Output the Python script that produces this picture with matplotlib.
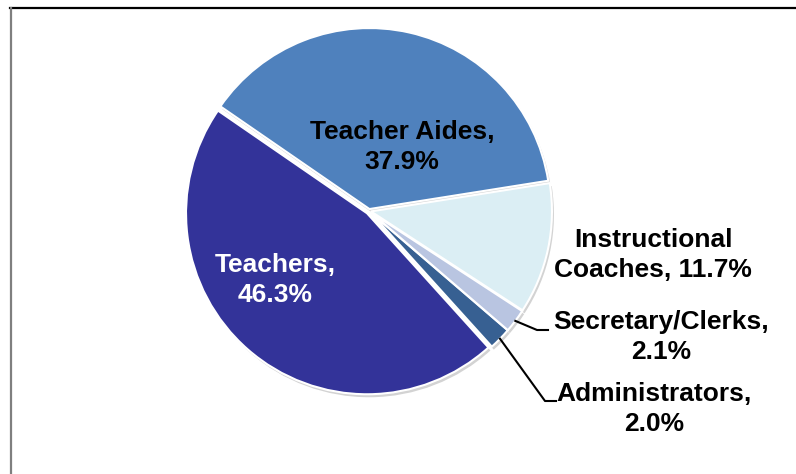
import numpy as np
import matplotlib
matplotlib.use("Agg")
import matplotlib.pyplot as plt
from matplotlib.lines import Line2D

plt.rcParams['font.family'] = ['Liberation Sans', 'DejaVu Sans']

# Staff composition
categories = ["Teacher Aides", "Teachers", "Administrators", "Secretary/Clerks", "Instructional Coaches"]
shares = [37.9, 46.3, 2.0, 2.1, 11.7]
colors = ["#4F81BD", "#333399", "#376092", "#B9C5E1", "#DBEEF4"]

W, H = 796, 474
fig = plt.figure(figsize=(W / 100, H / 100), dpi=100)
ax = fig.add_axes([0, 0, 1, 1])

cx, cy, R = 369, H - 211, 181
start = 9
explode = [2, 3, 2, 2, 2]

# soft shadow beneath the wedges
ax.pie(shares, startangle=start, radius=R, center=(cx + 2, cy - 3), explode=explode,
       colors=["#c8c8c8"] * len(shares),
       wedgeprops=dict(linewidth=0, alpha=0.8), frame=True)
wedges, _ = ax.pie(shares, startangle=start, radius=R, center=(cx, cy), explode=explode,
                   colors=colors, wedgeprops=dict(edgecolor="white", linewidth=1.5),
                   frame=True)
ax.set_xlim(0, W)
ax.set_ylim(0, H)
ax.set_aspect("equal")
ax.axis("off")

fs = 19
ls = 1.32
ax.text(402, H - 147, f"{categories[0]},\n{shares[0]:.1f}%", ha="center", va="center",
        fontsize=fs, fontweight="bold", color="black", linespacing=ls)
ax.text(275, H - 280, f"{categories[1]},\n{shares[1]:.1f}%", ha="center", va="center",
        fontsize=fs, fontweight="bold", color="white", linespacing=ls)
ax.text(653, H - 255, "Instructional\nCoaches, " + f"{shares[4]:.1f}%", ha="center",
        va="center", fontsize=fs, fontweight="bold", color="black", linespacing=ls)
ax.text(661, H - 337, f"{categories[3]},\n{shares[3]:.1f}%", ha="center", va="center",
        fontsize=fs, fontweight="bold", color="black", linespacing=ls)
ax.text(654, H - 409, f"{categories[2]},\n{shares[2]:.1f}%", ha="center", va="center",
        fontsize=fs, fontweight="bold", color="black", linespacing=ls)


def edge_point(w):
    th = np.deg2rad((w.theta1 + w.theta2) / 2)
    x0, y0 = w.center
    return x0 + w.r * np.cos(th), y0 + w.r * np.sin(th)


# leader lines for the two thin slices
sx, sy = edge_point(wedges[3])
ax.plot([sx, 537, 548], [sy, H - 330, H - 330], color="black", lw=1.5)
ax_, ay_ = edge_point(wedges[2])
ax.plot([ax_, 545, 556], [ay_, H - 401, H - 401], color="black", lw=1.5)

# partial frame around the chart area
fig.add_artist(Line2D([10 / W, 1], [1 - 8 / H, 1 - 8 / H], transform=fig.transFigure,
                      color="black", lw=1.6))
fig.add_artist(Line2D([11 / W, 11 / W], [0, 1 - 8 / H], transform=fig.transFigure,
                      color="#7f7f7f", lw=1.6))

fig.savefig("out.png", dpi=100)
